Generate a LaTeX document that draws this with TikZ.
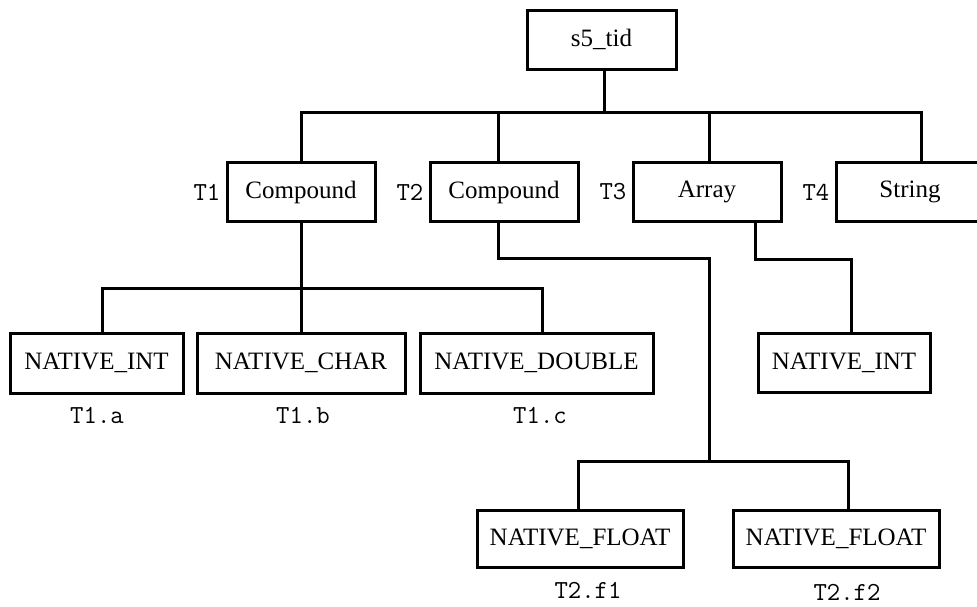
\documentclass[tikz,border=0pt]{standalone}
\usepackage{fontspec}
\setmainfont{Liberation Serif}
\usetikzlibrary{positioning}
\begin{document}
\begin{tikzpicture}[
  x=1pt, y=-1pt,
  box/.style={draw, line width=3pt, minimum height=59pt, inner sep=0pt,
              font=\fontsize{25}{30}\selectfont},
  lbl/.style={inner sep=0pt, font=\ttfamily\fontsize{26}{30}\selectfont},
  link/.style={line width=3pt}
]
  \clip (0,0) rectangle (977,606);

  \node[box, minimum width=149pt] (root) at (601.5,39.5) {s5\_tid};

  \node[box, minimum width=148pt] (t1) at (301,192) {Compound};
  \node[box, minimum width=148pt] (t2) at (504,192) {Compound};
  \node[box, minimum width=148pt] (t3) at (707,192) {Array};
  \node[box, minimum width=148pt] (t4) at (910,192) {String};

  \node[lbl, left=5pt of t1] (lt1) {T1};
  \node[lbl, left=5pt of t2] (lt2) {T2};
  \node[lbl, left=5pt of t3] (lt3) {T3};
  \node[lbl, left=5pt of t4] (lt4) {T4};

  \node[box, minimum width=173pt, minimum height=60pt] (ni1) at (96.5,363) {NATIVE\_INT};
  \node[box, minimum width=208pt, minimum height=60pt] (nc)  at (301,363)  {NATIVE\_CHAR};
  \node[box, minimum width=233pt, minimum height=60pt] (nd)  at (536.5,363) {NATIVE\_DOUBLE};
  \node[box, minimum width=172pt] (ni2) at (844,362.5) {NATIVE\_INT};

  \node[box, minimum width=206pt, minimum height=57pt] (nf1) at (580,538.5) {NATIVE\_FLOAT};
  \node[box, minimum width=206pt, minimum height=57pt] (nf2) at (836,538.5) {NATIVE\_FLOAT};

  \node[lbl, anchor=base] (t1a)  at (97,423)  {T1.a};
  \node[lbl, anchor=base] (t1b)  at (303,423) {T1.b};
  \node[lbl, anchor=base] (t1c)  at (540,423) {T1.c};
  \node[lbl, anchor=base] (t2f1) at (588,598) {T2.f1};
  \node[lbl, anchor=base] (t2f2) at (847,600) {T2.f2};

  % junctions of the tree lines
  \coordinate (bus1)  at (604,112);
  \coordinate (bus2)  at (301,288);
  \coordinate (bend2) at (709,258);
  \coordinate (bus3)  at (709,461);

  \draw[link] (root.south -| bus1) -- (bus1);
  \draw[link] (t1.north) |- (bus1) -| ([xshift=11pt]t4.north);
  \draw[link] ([xshift=-6pt]t2.north) -- ++(0,-50.5);
  \draw[link] ([xshift=2pt]t3.north) -- ++(0,-50.5);

  \draw[link] (t1.south) -- (nc.north);
  \draw[link] ([xshift=5.5pt]ni1.north) |- (bus2) -| ([xshift=5.5pt]nd.north);

  \draw[link] ([xshift=-6pt]t2.south) |- (bend2) -- (bus3);
  \draw[link] ([xshift=-2pt]nf1.north) |- (bus3) -| ([xshift=12pt]nf2.north);

  \draw[link] ([xshift=48pt]t3.south) -- ++(0,36) -| ([xshift=7pt]ni2.north);
\end{tikzpicture}
\end{document}
